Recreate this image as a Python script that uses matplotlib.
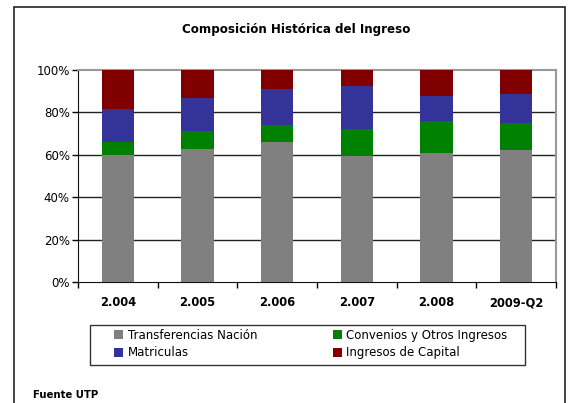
import numpy as np
import matplotlib
matplotlib.use('Agg')
import matplotlib.pyplot as plt
import matplotlib.transforms as mtransforms
from matplotlib.patches import Rectangle

plt.rcParams['font.family'] = ['DejaVu Sans']

# Data (percent of total income)
years = ['2.004', '2.005', '2.006', '2.007', '2.008', '2009-Q2']
transferencias = [60.0, 62.7, 66.0, 59.4, 60.8, 62.3]
convenios = [6.0, 8.5, 8.0, 12.9, 15.1, 12.8]
matriculas = [15.6, 15.6, 17.0, 20.2, 11.8, 13.6]
capital = [18.4, 13.2, 9.0, 7.5, 12.3, 11.3]

series = [
    ('Transferencias Nación', transferencias, '#808080'),
    ('Convenios y Otros Ingresos', convenios, '#008000'),
    ('Matriculas', matriculas, '#333399'),
    ('Ingresos de Capital', capital, '#800000'),
]

fig = plt.figure(figsize=(5.68, 4.03), dpi=100)
W, H = 568, 403

# outer frame of the chart
fig.patches.append(Rectangle((14 / W, -0.01), (565 - 14) / W, 1 - 7 / H + 0.01,
                             transform=fig.transFigure, fill=False,
                             edgecolor='#222222', linewidth=1.2))

ax = fig.add_axes([78 / W, 1 - 282 / H, (556 - 78) / W, (282 - 70) / H])

x = np.arange(len(years))
bottom = np.zeros(len(years))
handles = {}
for name, vals, color in series:
    b = ax.bar(x, vals, width=0.41, bottom=bottom, color=color, label=name, zorder=3)
    handles[name] = b
    bottom += np.array(vals)

ax.set_xlim(-0.5, len(years) - 0.5)
ax.set_ylim(0, 100)
ax.set_yticks(np.arange(0, 101, 20))
ax.set_yticklabels([f'{v}%' for v in range(0, 101, 20)], fontsize=8.5)
# category separators as ticks, category names as text on a common baseline
ax.set_xticks(np.arange(-0.5, len(years), 1.0))
ax.set_xticklabels([])
ax.tick_params(axis='x', length=4, direction='out', width=1)
ax.tick_params(axis='y', length=4, width=1, pad=2)
trans = mtransforms.blended_transform_factory(ax.transData, fig.transFigure)
for xi, lab in zip(x, years):
    ax.text(xi, 1 - 306 / H, lab, transform=trans, ha='center', va='baseline',
            fontsize=8.3, fontweight='bold')

for v in range(20, 100, 20):
    ax.axhline(v, color='#222222', linewidth=1, zorder=1)

ax.spines['top'].set_color('#999999')
ax.spines['right'].set_color('#999999')
ax.spines['top'].set_linewidth(1.5)
ax.spines['right'].set_linewidth(1.5)
ax.spines['left'].set_color('#111111')
ax.spines['bottom'].set_color('#111111')

fig.text(296 / W, 1 - 30 / H, 'Composición Histórica del Ingreso',
         ha='center', va='center', fontsize=8.6, fontweight='bold')

# legend frame drawn separately, legend filled row by row like the original
fig.patches.append(Rectangle((90 / W, 1 - 365 / H), (525 - 90) / W, 40 / H,
                             transform=fig.transFigure, fill=False,
                             edgecolor='#333333', linewidth=1))
order = ['Transferencias Nación', 'Matriculas', 'Convenios y Otros Ingresos', 'Ingresos de Capital']
leg = fig.legend(handles=[handles[n] for n in order], labels=order, ncol=2,
                 loc='upper left', bbox_to_anchor=(114 / W, 1 - 329 / H),
                 fontsize=8.5, frameon=False, borderaxespad=0, borderpad=0,
                 handlelength=0.8, handleheight=0.8, handletextpad=0.35,
                 columnspacing=6.4, labelspacing=0.35)

fig.text(33 / W, 1 - 395 / H, 'Fuente UTP', ha='left', va='center',
         fontsize=7.3, fontweight='bold')

fig.savefig('out.png', dpi=100)
